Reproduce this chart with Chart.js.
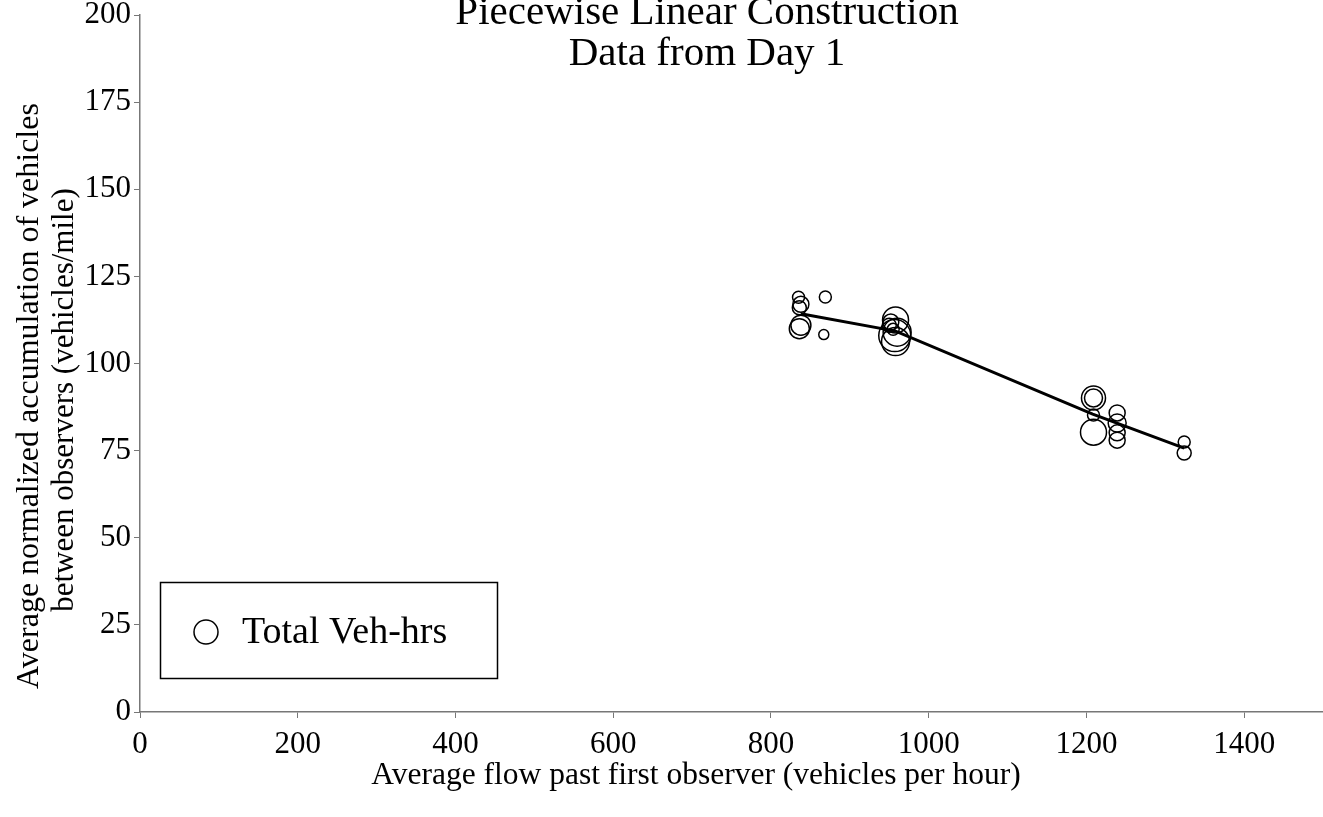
<!DOCTYPE html>
<html>
<head>
<meta charset="utf-8">
<script src="https://cdn.jsdelivr.net/npm/chart.js@4/dist/chart.umd.min.js"></script>
<style>
html,body{margin:0;padding:0;background:#fff;}
#wrap{width:1323px;height:817px;}
</style>
</head>
<body>
<div id="wrap"><canvas id="c" width="1323" height="817"></canvas></div>
<script>
// ---- data ----
const titleLines = ['Piecewise Linear Construction', 'Data from Day 1'];
const xAxisTitle = 'Average flow past first observer (vehicles per hour)';
const yAxisTitle = ['Average normalized accumulation of vehicles', 'between observers (vehicles/mile)'];
const seriesName = 'Total Veh-hrs';
const xTicks = [0, 200, 400, 600, 800, 1000, 1200, 1400];
const yTicks = [0, 25, 50, 75, 100, 125, 150, 175, 200];

// bubbles: flow, accumulation, total veh-hrs (bubble size)
const flow = [835, 838, 836, 838, 836, 869, 867,
              952, 958, 960, 958, 950, 955, 957,
              1209, 1209, 1209, 1209, 1239, 1239, 1239, 1239,
              1324, 1324];
const accumulation = [119.0, 117.0, 116.0, 111.0, 110.0, 119.1, 108.3,
                      111.9, 112.5, 109.0, 106.3, 111.0, 109.8, 108.0,
                      90.1, 90.1, 85.2, 80.3, 85.8, 82.9, 80.1, 78.0,
                      77.5, 74.3];
const vehHrs = [6, 8, 7, 10, 10, 6, 5,
                8, 13, 14, 14, 7, 6, 16,
                12, 9, 6, 13, 8, 9, 8, 8,
                6, 7];

// piecewise linear construction
const lineFlow = [838, 958, 1208, 1324];
const lineAcc = [114.3, 109.3, 85.5, 75.7];

const FONT = '"Liberation Serif", "Times New Roman", serif';

const overlay = {
  id: 'overlay',
  afterDraw(chart) {
    const ctx = chart.ctx;
    ctx.save();
    ctx.fillStyle = '#000';
    ctx.textAlign = 'center';
    ctx.textBaseline = 'middle';
    ctx.font = '41px ' + FONT;
    ctx.fillText(titleLines[0], 707, 13);
    ctx.fillText(titleLines[1], 707, 54);
    // axis titles
    ctx.font = '31.5px ' + FONT;
    ctx.fillText(xAxisTitle, 696, 776);
    ctx.save();
    ctx.translate(30, 396);
    ctx.rotate(-Math.PI / 2);
    ctx.font = '32px ' + FONT;
    ctx.fillText(yAxisTitle[0], 0, 0);
    ctx.restore();
    ctx.save();
    ctx.translate(65, 400);
    ctx.rotate(-Math.PI / 2);
    ctx.font = '31px ' + FONT;
    ctx.fillText(yAxisTitle[1], 0, 0);
    ctx.restore();
    // legend box
    ctx.strokeStyle = '#000';
    ctx.lineWidth = 1.5;
    ctx.strokeRect(160.5, 582.5, 337, 96);
    ctx.beginPath();
    ctx.arc(206, 632, 12, 0, Math.PI * 2);
    ctx.stroke();
    ctx.textAlign = 'left';
    ctx.font = '38px ' + FONT;
    ctx.fillText(seriesName, 242, 633);
    ctx.restore();
  }
};

new Chart(document.getElementById('c'), {
  data: {
    datasets: [
      {
        type: 'bubble',
        label: seriesName,
        data: flow.map((x, i) => ({x: x, y: accumulation[i], r: vehHrs[i]})),
        backgroundColor: 'rgba(0,0,0,0)',
        borderColor: '#000',
        borderWidth: 1.5,
        order: 2
      },
      {
        type: 'line',
        label: 'Piecewise linear',
        data: lineFlow.map((x, i) => ({x: x, y: lineAcc[i]})),
        borderColor: '#000',
        borderWidth: 3,
        pointRadius: 0,
        fill: false,
        tension: 0,
        order: 1
      }
    ]
  },
  options: {
    responsive: false,
    animation: false,
    events: [],
    layout: {autoPadding: false, padding: {top: 15, right: 0, left: 0, bottom: 0}},
    plugins: {legend: {display: false}, title: {display: false}, tooltip: {enabled: false}},
    scales: {
      x: {
        type: 'linear',
        min: 0, max: 1500,
        afterBuildTicks(s) { s.ticks = xTicks.map(v => ({value: v})); },
        afterFit(s) { s.height = 105; s.paddingLeft = 0; s.paddingRight = 0; },
        grid: {drawOnChartArea: false, drawTicks: true, tickLength: 6, color: '#777'},
        border: {color: '#777', width: 1.5},
        ticks: {color: '#000', font: {family: FONT, size: 31}, padding: 8, maxRotation: 0,
                callback: v => String(v)}
      },
      y: {
        type: 'linear',
        min: 0, max: 200,
        afterBuildTicks(s) { s.ticks = yTicks.map(v => ({value: v})); },
        afterFit(s) { s.width = 140; s.paddingTop = 0; s.paddingBottom = 0; },
        grid: {drawOnChartArea: false, drawTicks: true, tickLength: 6, color: '#777'},
        border: {color: '#777', width: 1.5},
        ticks: {color: '#000', font: {family: FONT, size: 31}, padding: 3,
                callback: v => String(v)}
      }
    }
  },
  plugins: [overlay]
});
</script>
</body>
</html>
